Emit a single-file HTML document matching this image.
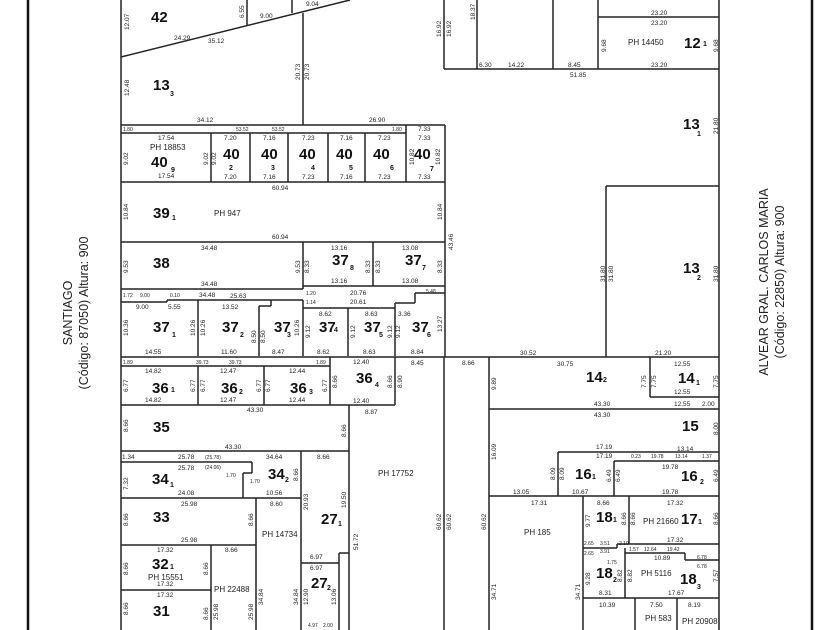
<!DOCTYPE html>
<html><head><meta charset="utf-8"><style>
html,body{margin:0;padding:0;background:#fff}
svg{display:block}
.d{font-family:"Liberation Sans",sans-serif;font-size:6.5px;fill:#222}
.s{font-family:"Liberation Sans",sans-serif;font-size:5px;fill:#222}
.p{font-family:"Liberation Sans",sans-serif;font-size:8px;fill:#222}
.b{font-family:"Liberation Sans",sans-serif;font-size:15px;font-weight:bold;fill:#111}
.u{font-family:"Liberation Sans",sans-serif;font-size:7px;font-weight:bold;fill:#111}
.st{font-family:"Liberation Sans",sans-serif;font-size:12.5px;fill:#222}
</style></head><body>
<svg width="840" height="630" viewBox="0 0 840 630" xmlns="http://www.w3.org/2000/svg">
<rect width="840" height="630" fill="#fff"/>
<g stroke="#111" stroke-width="2.5" fill="none">
<line x1="28" y1="0" x2="28" y2="630"/>
<line x1="812" y1="0" x2="812" y2="630"/>
</g>
<g stroke="#222" stroke-width="1.5" fill="none">
<line x1="121" y1="0" x2="121" y2="630"/>
<line x1="719" y1="0" x2="719" y2="630"/>
<line x1="121" y1="57" x2="350" y2="0"/>
<line x1="247" y1="0" x2="247" y2="25"/>
<line x1="292" y1="0" x2="292" y2="13"/>
<line x1="303" y1="13" x2="303" y2="125"/>
<line x1="444" y1="0" x2="444" y2="69"/>
<line x1="444" y1="69" x2="719" y2="69"/>
<line x1="477" y1="0" x2="477" y2="69"/>
<line x1="553" y1="0" x2="553" y2="69"/>
<line x1="598" y1="0" x2="598" y2="69"/>
<line x1="598" y1="17" x2="719" y2="17"/>
<line x1="606" y1="186" x2="719" y2="186"/>
<line x1="606" y1="186" x2="606" y2="357"/>
<line x1="121" y1="125" x2="445" y2="125"/>
<line x1="121" y1="133" x2="406" y2="133"/>
<line x1="406" y1="125" x2="406" y2="182"/>
<line x1="445" y1="125" x2="445" y2="357"/>
<line x1="121" y1="182" x2="445" y2="182"/>
<line x1="211" y1="133" x2="211" y2="182"/>
<line x1="250" y1="133" x2="250" y2="182"/>
<line x1="288" y1="133" x2="288" y2="182"/>
<line x1="328" y1="133" x2="328" y2="182"/>
<line x1="365" y1="133" x2="365" y2="182"/>
<line x1="121" y1="242" x2="445" y2="242"/>
<line x1="303" y1="242" x2="303" y2="289"/>
<line x1="373" y1="242" x2="373" y2="286"/>
<line x1="303" y1="286" x2="445" y2="286"/>
<line x1="121" y1="289" x2="303" y2="289"/>
<line x1="121" y1="302" x2="167" y2="302"/>
<line x1="167" y1="300" x2="167" y2="302"/>
<line x1="167" y1="300" x2="303" y2="300"/>
<line x1="303" y1="300" x2="303" y2="356"/>
<line x1="303" y1="308" x2="395" y2="308"/>
<line x1="395" y1="303" x2="395" y2="356"/>
<line x1="395" y1="303" x2="415" y2="303"/>
<line x1="415" y1="293" x2="415" y2="303"/>
<line x1="415" y1="293" x2="445" y2="293"/>
<line x1="198" y1="300" x2="198" y2="356"/>
<line x1="259" y1="306" x2="259" y2="356"/>
<line x1="259" y1="306" x2="271" y2="306"/>
<line x1="271" y1="300" x2="271" y2="306"/>
<line x1="348" y1="308" x2="348" y2="356"/>
<line x1="121" y1="357" x2="719" y2="357"/>
<line x1="121" y1="366" x2="330" y2="366"/>
<line x1="121" y1="405" x2="395" y2="405"/>
<line x1="198" y1="366" x2="198" y2="405"/>
<line x1="264" y1="366" x2="264" y2="405"/>
<line x1="330" y1="357" x2="330" y2="405"/>
<line x1="395" y1="357" x2="395" y2="405"/>
<line x1="349" y1="405" x2="349" y2="630"/>
<line x1="121" y1="451" x2="349" y2="451"/>
<line x1="121" y1="462" x2="252" y2="462"/>
<line x1="252" y1="462" x2="252" y2="473"/>
<line x1="243" y1="473" x2="252" y2="473"/>
<line x1="243" y1="473" x2="243" y2="498"/>
<line x1="301" y1="451" x2="301" y2="630"/>
<line x1="121" y1="498" x2="301" y2="498"/>
<line x1="256" y1="498" x2="256" y2="630"/>
<line x1="121" y1="545" x2="256" y2="545"/>
<line x1="211" y1="545" x2="211" y2="630"/>
<line x1="121" y1="590" x2="211" y2="590"/>
<line x1="301" y1="563" x2="339" y2="563"/>
<line x1="339" y1="553" x2="339" y2="630"/>
<line x1="339" y1="553" x2="349" y2="553"/>
<line x1="444" y1="357" x2="444" y2="630"/>
<line x1="489" y1="357" x2="489" y2="630"/>
<line x1="650" y1="357" x2="650" y2="397"/>
<line x1="650" y1="397" x2="719" y2="397"/>
<line x1="489" y1="409" x2="719" y2="409"/>
<line x1="558" y1="452" x2="719" y2="452"/>
<line x1="558" y1="452" x2="558" y2="496"/>
<line x1="614" y1="461" x2="719" y2="461"/>
<line x1="614" y1="461" x2="614" y2="496"/>
<line x1="489" y1="496" x2="719" y2="496"/>
<line x1="583" y1="496" x2="583" y2="630"/>
<line x1="629" y1="496" x2="629" y2="544"/>
<line x1="629" y1="544" x2="719" y2="544"/>
<line x1="583" y1="548" x2="617" y2="548"/>
<line x1="617" y1="544" x2="617" y2="548"/>
<line x1="617" y1="544" x2="629" y2="544"/>
<line x1="625" y1="548" x2="625" y2="598"/>
<line x1="625" y1="553" x2="685" y2="553"/>
<line x1="685" y1="553" x2="685" y2="560"/>
<line x1="685" y1="560" x2="719" y2="560"/>
<line x1="583" y1="598" x2="719" y2="598"/>
<line x1="635" y1="598" x2="635" y2="630"/>
<line x1="677" y1="598" x2="677" y2="630"/>
</g>

<text class="st" text-anchor="middle" transform="translate(72,313) rotate(-90)">SANTIAGO</text>
<text class="st" text-anchor="middle" transform="translate(88,313) rotate(-90)">(Código: 87050) Altura: 900</text>
<text class="st" text-anchor="middle" transform="translate(768,282) rotate(-90)">ALVEAR  GRAL. CARLOS MARIA</text>
<text class="st" text-anchor="middle" transform="translate(784,282) rotate(-90)">(Código: 22850) Altura: 900</text>

<text class="b" x="151" y="22">42</text>
<text class="b" x="153" y="90">13</text><text class="u" x="170" y="96">3</text>
<text class="b" x="684" y="48">12</text><text class="u" x="703" y="46">1</text>
<text class="b" x="683" y="129">13</text><text class="u" x="697" y="136">1</text>
<text class="b" x="683" y="273">13</text><text class="u" x="697" y="280">2</text>
<text class="b" x="151" y="167">40</text><text class="u" x="171" y="172">9</text>
<text class="b" x="223" y="159">40</text><text class="u" x="229" y="170">2</text>
<text class="b" x="261" y="159">40</text><text class="u" x="271" y="170">3</text>
<text class="b" x="299" y="159">40</text><text class="u" x="311" y="170">4</text>
<text class="b" x="336" y="159">40</text><text class="u" x="349" y="170">5</text>
<text class="b" x="373" y="159">40</text><text class="u" x="390" y="170">6</text>
<text class="b" x="414" y="159">40</text><text class="u" x="430" y="171">7</text>
<text class="b" x="153" y="218">39</text><text class="u" x="172" y="220">1</text>
<text class="b" x="153" y="268">38</text>
<text class="b" x="332" y="265">37</text><text class="u" x="350" y="270">8</text>
<text class="b" x="405" y="265">37</text><text class="u" x="422" y="270">7</text>
<text class="b" x="153" y="332">37</text><text class="u" x="172" y="337">1</text>
<text class="b" x="222" y="332">37</text><text class="u" x="240" y="337">2</text>
<text class="b" x="274" y="332">37</text><text class="u" x="287" y="337">3</text>
<text class="b" x="319" y="332">37</text><text class="u" x="334" y="332">4</text>
<text class="b" x="364" y="332">37</text><text class="u" x="379" y="337">5</text>
<text class="b" x="412" y="332">37</text><text class="u" x="427" y="337">6</text>
<text class="b" x="152" y="393">36</text><text class="u" x="171" y="392">1</text>
<text class="b" x="221" y="393">36</text><text class="u" x="239" y="394">2</text>
<text class="b" x="290" y="393">36</text><text class="u" x="309" y="394">3</text>
<text class="b" x="356" y="383">36</text><text class="u" x="375" y="387">4</text>
<text class="b" x="153" y="432">35</text>
<text class="b" x="152" y="484">34</text><text class="u" x="170" y="487">1</text>
<text class="b" x="268" y="479">34</text><text class="u" x="285" y="482">2</text>
<text class="b" x="153" y="522">33</text>
<text class="b" x="152" y="569">32</text><text class="u" x="170" y="569">1</text>
<text class="b" x="153" y="616">31</text>
<text class="b" x="321" y="524">27</text><text class="u" x="338" y="526">1</text>
<text class="b" x="311" y="588">27</text><text class="u" x="327" y="590">2</text>
<text class="b" x="586" y="382">14</text><text class="u" x="603" y="382">2</text>
<text class="b" x="678" y="383">14</text><text class="u" x="696" y="385">1</text>
<text class="b" x="682" y="431">15</text>
<text class="b" x="575" y="479">16</text><text class="u" x="592" y="479">1</text>
<text class="b" x="681" y="481">16</text><text class="u" x="700" y="484">2</text>
<text class="b" x="596" y="522">18</text><text class="u" x="613" y="522">1</text>
<text class="b" x="681" y="524">17</text><text class="u" x="698" y="524">1</text>
<text class="b" x="596" y="578">18</text><text class="u" x="613" y="582">2</text>
<text class="b" x="680" y="584">18</text><text class="u" x="697" y="589">3</text>

<text class="p" x="628" y="45">PH 14450</text>
<text class="p" x="150" y="150">PH 18853</text>
<text class="p" x="214" y="216">PH 947</text>
<text class="p" x="378" y="476">PH 17752</text>
<text class="p" x="262" y="537">PH 14734</text>
<text class="p" x="148" y="580">PH 15551</text>
<text class="p" x="214" y="592">PH 22488</text>
<text class="p" x="524" y="535">PH 185</text>
<text class="p" x="643" y="524">PH 21660</text>
<text class="p" x="641" y="576">PH 5116</text>
<text class="p" x="645" y="621">PH 583</text>
<text class="p" x="682" y="624">PH 20908</text>

<g class="d">
<text x="174" y="40">24.29</text><text x="208" y="43">35.12</text><text x="260" y="18">9.00</text><text x="306" y="6">9.04</text>
<text x="479" y="67">6.30</text><text x="508" y="67">14.22</text><text x="568" y="67">8.45</text><text x="570" y="77">51.85</text>
<text x="651" y="15">23.20</text><text x="651" y="25">23.20</text><text x="651" y="67">23.20</text>
<text x="197" y="122">34.12</text><text x="369" y="122">26.90</text><text x="418" y="131">7.33</text>
<text x="158" y="140">17.54</text><text x="158" y="178">17.54</text>
<text x="224" y="140">7.20</text><text x="224" y="179">7.20</text><text x="263" y="140">7.16</text><text x="263" y="179">7.16</text>
<text x="302" y="140">7.23</text><text x="302" y="179">7.23</text><text x="340" y="140">7.16</text><text x="340" y="179">7.16</text>
<text x="378" y="140">7.23</text><text x="378" y="179">7.23</text><text x="418" y="140">7.33</text><text x="418" y="179">7.33</text>
<text x="272" y="190">60.94</text><text x="272" y="239">60.94</text>
<text x="201" y="250">34.48</text><text x="201" y="286">34.48</text><text x="199" y="297">34.48</text><text x="230" y="298">25.63</text>
<text x="331" y="250">13.16</text><text x="331" y="283">13.16</text><text x="402" y="250">13.08</text><text x="402" y="283">13.08</text>
<text x="350" y="295">20.76</text><text x="350" y="304">20.61</text>
<text x="136" y="309">9.00</text><text x="168" y="309">5.55</text><text x="222" y="309">13.52</text>
<text x="319" y="316">8.62</text><text x="365" y="316">8.63</text><text x="398" y="316">3.36</text>
<text x="145" y="354">14.55</text><text x="221" y="354">11.60</text><text x="272" y="354">8.47</text><text x="317" y="354">8.62</text><text x="363" y="354">8.63</text><text x="411" y="354">8.84</text>
<text x="411" y="365">8.45</text><text x="462" y="365">8.66</text><text x="520" y="355">30.52</text><text x="655" y="355">21.20</text>
<text x="145" y="373">14.82</text><text x="145" y="402">14.82</text><text x="220" y="373">12.47</text><text x="220" y="402">12.47</text>
<text x="289" y="373">12.44</text><text x="289" y="402">12.44</text><text x="353" y="364">12.40</text><text x="353" y="403">12.40</text>
<text x="365" y="414">8.87</text><text x="247" y="412">43.30</text><text x="225" y="449">43.30</text>
<text x="122" y="459">1.34</text><text x="178" y="459">25.78</text><text x="178" y="470">25.78</text><text x="266" y="459">34.64</text><text x="317" y="459">8.66</text>
<text x="178" y="495">24.08</text><text x="266" y="495">10.56</text>
<text x="181" y="506">25.98</text><text x="181" y="542">25.98</text><text x="270" y="506">8.60</text>
<text x="157" y="552">17.32</text><text x="157" y="586">17.32</text><text x="225" y="552">8.66</text><text x="157" y="597">17.32</text>
<text x="310" y="559">6.97</text><text x="310" y="570">6.97</text>
<text x="557" y="366">30.75</text><text x="674" y="366">12.55</text><text x="674" y="394">12.55</text><text x="674" y="406">12.55</text><text x="702" y="406">2.00</text>
<text x="594" y="406">43.30</text><text x="594" y="417">43.30</text>
<text x="596" y="449">17.19</text><text x="596" y="458">17.19</text><text x="677" y="451">13.14</text><text x="662" y="469">19.78</text><text x="662" y="494">19.78</text>
<text x="513" y="494">13.05</text><text x="572" y="494">10.67</text>
<text x="531" y="505">17.31</text><text x="597" y="505">8.66</text><text x="667" y="505">17.32</text><text x="667" y="542">17.32</text>
<text x="654" y="560">10.89</text><text x="599" y="595">8.31</text><text x="668" y="595">17.67</text>
<text x="599" y="607">10.39</text><text x="650" y="607">7.50</text><text x="688" y="607">8.19</text>
</g>
<g class="d">
<text transform="translate(129,30) rotate(-90)">12.07</text>
<text transform="translate(244,18) rotate(-90)">6.55</text>
<text transform="translate(129,96) rotate(-90)">12.48</text>
<text transform="translate(300,80) rotate(-90)">20.73</text><text transform="translate(309,80) rotate(-90)">20.73</text>
<text transform="translate(441,37) rotate(-90)">16.92</text><text transform="translate(451,37) rotate(-90)">16.92</text><text transform="translate(475,20) rotate(-90)">18.37</text>
<text transform="translate(606,52) rotate(-90)">9.68</text><text transform="translate(718,52) rotate(-90)">9.68</text>
<text transform="translate(718,134) rotate(-90)">21.80</text>
<text transform="translate(605,282) rotate(-90)">31.80</text><text transform="translate(613,282) rotate(-90)">31.80</text><text transform="translate(718,282) rotate(-90)">31.80</text>
<text transform="translate(128,165) rotate(-90)">9.02</text><text transform="translate(208,165) rotate(-90)">9.02</text><text transform="translate(216,165) rotate(-90)">9.02</text>
<text transform="translate(440,165) rotate(-90)">10.82</text><text transform="translate(414,165) rotate(-90)">10.82</text>
<text transform="translate(128,220) rotate(-90)">10.84</text><text transform="translate(442,220) rotate(-90)">10.84</text><text transform="translate(453,250) rotate(-90)">43.46</text>
<text transform="translate(128,273) rotate(-90)">9.53</text><text transform="translate(300,273) rotate(-90)">9.53</text><text transform="translate(309,273) rotate(-90)">8.33</text>
<text transform="translate(370,273) rotate(-90)">8.33</text><text transform="translate(380,273) rotate(-90)">8.33</text><text transform="translate(442,273) rotate(-90)">8.33</text>
<text transform="translate(128,336) rotate(-90)">10.36</text><text transform="translate(195,336) rotate(-90)">10.26</text><text transform="translate(205,336) rotate(-90)">10.26</text>
<text transform="translate(256,343) rotate(-90)">8.50</text><text transform="translate(265,343) rotate(-90)">8.50</text><text transform="translate(299,336) rotate(-90)">10.26</text>
<text transform="translate(310,338) rotate(-90)">9.12</text><text transform="translate(355,338) rotate(-90)">9.12</text><text transform="translate(392,338) rotate(-90)">9.12</text><text transform="translate(400,338) rotate(-90)">9.12</text>
<text transform="translate(442,332) rotate(-90)">13.27</text>
<text transform="translate(128,392) rotate(-90)">6.77</text><text transform="translate(195,392) rotate(-90)">6.77</text><text transform="translate(205,392) rotate(-90)">6.77</text>
<text transform="translate(261,392) rotate(-90)">6.77</text><text transform="translate(270,392) rotate(-90)">6.77</text><text transform="translate(327,392) rotate(-90)">6.77</text>
<text transform="translate(337,388) rotate(-90)">8.66</text><text transform="translate(392,388) rotate(-90)">8.66</text><text transform="translate(402,388) rotate(-90)">8.90</text>
<text transform="translate(128,432) rotate(-90)">8.66</text><text transform="translate(346,437) rotate(-90)">8.66</text>
<text transform="translate(128,490) rotate(-90)">7.32</text><text transform="translate(298,481) rotate(-90)">8.66</text>
<text transform="translate(128,526) rotate(-90)">8.66</text><text transform="translate(253,526) rotate(-90)">8.66</text>
<text transform="translate(308,510) rotate(-90)">20.93</text><text transform="translate(346,508) rotate(-90)">19.50</text><text transform="translate(358,550) rotate(-90)">51.72</text>
<text transform="translate(128,575) rotate(-90)">8.66</text><text transform="translate(208,575) rotate(-90)">8.66</text>
<text transform="translate(128,615) rotate(-90)">8.66</text><text transform="translate(208,620) rotate(-90)">8.66</text><text transform="translate(218,620) rotate(-90)">25.98</text>
<text transform="translate(253,620) rotate(-90)">25.98</text><text transform="translate(263,605) rotate(-90)">34.84</text><text transform="translate(298,605) rotate(-90)">34.84</text>
<text transform="translate(308,605) rotate(-90)">12.90</text><text transform="translate(336,605) rotate(-90)">13.06</text>
<text transform="translate(441,530) rotate(-90)">60.62</text><text transform="translate(451,530) rotate(-90)">60.62</text><text transform="translate(486,530) rotate(-90)">60.62</text>
<text transform="translate(496,390) rotate(-90)">9.89</text><text transform="translate(646,388) rotate(-90)">7.75</text><text transform="translate(656,388) rotate(-90)">7.75</text><text transform="translate(718,388) rotate(-90)">7.75</text>
<text transform="translate(718,435) rotate(-90)">8.00</text><text transform="translate(496,460) rotate(-90)">16.09</text>
<text transform="translate(555,480) rotate(-90)">8.09</text><text transform="translate(564,480) rotate(-90)">8.09</text>
<text transform="translate(611,482) rotate(-90)">6.49</text><text transform="translate(620,482) rotate(-90)">6.49</text><text transform="translate(718,482) rotate(-90)">6.49</text>
<text transform="translate(590,527) rotate(-90)">9.77</text><text transform="translate(626,525) rotate(-90)">8.66</text><text transform="translate(635,525) rotate(-90)">8.66</text><text transform="translate(718,525) rotate(-90)">8.66</text>
<text transform="translate(496,600) rotate(-90)">34.71</text><text transform="translate(580,600) rotate(-90)">34.71</text><text transform="translate(590,585) rotate(-90)">9.28</text>
<text transform="translate(622,582) rotate(-90)">8.82</text><text transform="translate(632,582) rotate(-90)">8.82</text><text transform="translate(718,582) rotate(-90)">7.57</text>
</g>
<g class="s">
<text x="123" y="131">1.80</text><text x="236" y="131">53.52</text><text x="272" y="131">53.52</text><text x="392" y="131">1.80</text>
<text x="123" y="297">1.72</text><text x="140" y="297">9.00</text><text x="170" y="297">0.10</text><text x="306" y="295">1.20</text><text x="306" y="304">1.14</text><text x="426" y="293">5.48</text>
<text x="123" y="364">1.89</text><text x="196" y="364">39.73</text><text x="229" y="364">39.73</text><text x="316" y="364">1.89</text>
<text x="205" y="459">(25.78)</text><text x="205" y="469">(24.06)</text><text x="226" y="477">1.70</text><text x="250" y="483">1.70</text>
<text x="631" y="458">0.23</text><text x="651" y="458">19.78</text><text x="675" y="458">13.14</text><text x="702" y="458">1.37</text>
<text x="584" y="545">2.65</text><text x="600" y="545">3.51</text><text x="619" y="545">2.10</text>
<text x="629" y="551">1.57</text><text x="644" y="551">12.64</text><text x="667" y="551">19.42</text><text x="697" y="559">6.78</text><text x="697" y="568">6.78</text>
<text x="584" y="555">2.65</text><text x="600" y="553">3.91</text><text x="607" y="564">1.75</text>
<text x="308" y="627">4.97</text><text x="323" y="627">2.00</text>
</g>
</svg>
</body></html>
